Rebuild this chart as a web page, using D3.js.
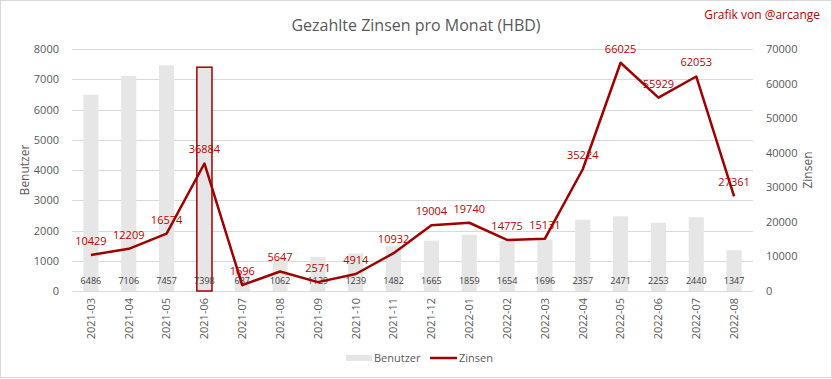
<!DOCTYPE html>
<html>
<head>
<meta charset="utf-8">
<script src="https://cdn.jsdelivr.net/npm/d3@7"></script>
<style>
  body { margin: 0; background: #fff; }
  svg text { font-family: "Open Sans", "DejaVu Sans", sans-serif; }
</style>
</head>
<body>
<div id="chart"></div>
<script>
// Data
const months = ["2021-03", "2021-04", "2021-05", "2021-06", "2021-07", "2021-08", "2021-09", "2021-10", "2021-11",
	"2021-12", "2022-01", "2022-02", "2022-03", "2022-04", "2022-05", "2022-06", "2022-07", "2022-08"];
const benutzer = [6486, 7106, 7457, 7398, 687, 1062, 1129, 1239, 1482, 1665, 1859, 1654, 1696, 2357, 2471, 2253, 2440, 1347];
const zinsen = [10429, 12209, 16574, 36884, 1696, 5647, 2571, 4914, 10932, 19004, 19740, 14775, 15131, 35224, 66025, 55929, 62053, 27361];
const highlighted = "2021-06";
const leftTicks = [0, 1000, 2000, 3000, 4000, 5000, 6000, 7000, 8000];
const rightTicks = [0, 10000, 20000, 30000, 40000, 50000, 60000, 70000];

const width = 832, height = 379;
const margins = { left: 72, right: 79, top: 49, bottom: 88 };
const lineColor = "#a00000";
const labelRed = "#c00000";
const grey = "#595959";

const svg = d3.select("#chart").append("svg")
	.attr("width", width).attr("height", height);

// Outer border
svg.append("rect")
	.attr("x", 0.5).attr("y", 0.5).attr("width", width - 1).attr("height", height - 2)
	.attr("fill", "#fff").attr("stroke", "#d9d9d9");

const x = d3.scaleBand().domain(months).range([margins.left, width - margins.right]).paddingInner(0.6).paddingOuter(0.3);
const yLeft = d3.scaleLinear().domain([0, 8000]).range([height - margins.bottom, margins.top]);
const yRight = d3.scaleLinear().domain([0, 70000]).range([height - margins.bottom, margins.top]);

// Gridlines
svg.append("g").selectAll("line")
	.data(leftTicks)
	.enter()
	.append("line")
		.attr("x1", margins.left).attr("x2", width - margins.right)
		.attr("y1", d => Math.round(yLeft(d)) + 0.5).attr("y2", d => Math.round(yLeft(d)) + 0.5)
		.attr("stroke", "#d9d9d9");

// Left axis
const leftAxis = svg.append("g")
	.attr("transform", `translate(${margins.left - 10}, 0)`)
	.call(d3.axisLeft(yLeft).tickValues(leftTicks).tickSize(0).tickFormat(d3.format("d")));
leftAxis.select(".domain").remove();
leftAxis.selectAll("text").attr("fill", grey).style("font-size", "11px");

// Right axis
const rightAxis = svg.append("g")
	.attr("transform", `translate(${width - margins.right + 10}, 0)`)
	.call(d3.axisRight(yRight).tickValues(rightTicks).tickSize(0).tickFormat(d3.format("d")));
rightAxis.select(".domain").remove();
rightAxis.selectAll("text").attr("fill", grey).style("font-size", "11px");

// Bottom axis (labels only)
const bottomAxis = svg.append("g")
	.attr("transform", `translate(0, ${height - margins.bottom})`)
	.call(d3.axisBottom(x).tickSize(0));
bottomAxis.select(".domain").remove();
bottomAxis.selectAll("text")
	.attr("fill", grey).style("font-size", "11px")
	.attr("transform", "rotate(-90)")
	.attr("x", -7).attr("y", 0).attr("dy", "0.35em")
	.style("text-anchor", "end");

// Bars
svg.append("g").selectAll("rect")
	.data(months.map((m, i) => ({ month: m, value: benutzer[i] })))
	.enter()
	.append("rect")
		.attr("x", d => x(d.month))
		.attr("y", d => yLeft(d.value))
		.attr("width", x.bandwidth())
		.attr("height", d => yLeft(0) - yLeft(d.value))
		.attr("fill", "#e6e6e6")
		.attr("stroke", d => d.month === highlighted ? lineColor : "none")
		.attr("stroke-width", 1.5);

// Bar value labels
svg.append("g").selectAll("text")
	.data(months.map((m, i) => ({ month: m, value: benutzer[i] })))
	.enter()
	.append("text")
		.attr("x", d => x(d.month) + x.bandwidth() / 2)
		.attr("y", yLeft(0) - 7)
		.attr("text-anchor", "middle")
		.attr("fill", "#404040")
		.style("font-size", "9px")
		.text(d => d.value);

// Zinsen line
const line = d3.line()
	.x((d, i) => x(months[i]) + x.bandwidth() / 2)
	.y(d => yRight(d));
svg.append("path")
	.datum(zinsen)
	.attr("d", line)
	.attr("fill", "none")
	.attr("stroke", lineColor)
	.attr("stroke-width", 2.5)
	.attr("stroke-linejoin", "round");

// Line value labels
svg.append("g").selectAll("text")
	.data(zinsen)
	.enter()
	.append("text")
		.attr("x", (d, i) => x(months[i]) + x.bandwidth() / 2)
		.attr("y", d => yRight(d) - 10)
		.attr("text-anchor", "middle")
		.attr("fill", labelRed)
		.style("font-size", "11px")
		.text(d => d);

// Title and credit
svg.append("text")
	.attr("x", 416).attr("y", 31)
	.attr("text-anchor", "middle")
	.attr("fill", grey)
	.style("font-size", "16px")
	.text("Gezahlte Zinsen pro Monat (HBD)");
svg.append("text")
	.attr("x", 820).attr("y", 19)
	.attr("text-anchor", "end")
	.attr("fill", labelRed)
	.style("font-size", "12px")
	.text("Grafik von @arcange");

// Axis titles
svg.append("text")
	.attr("transform", `translate(29, ${(margins.top + height - margins.bottom) / 2}) rotate(-90)`)
	.attr("text-anchor", "middle")
	.attr("fill", grey)
	.style("font-size", "12px")
	.text("Benutzer");
svg.append("text")
	.attr("transform", `translate(812, ${(margins.top + height - margins.bottom) / 2}) rotate(-90)`)
	.attr("text-anchor", "middle")
	.attr("fill", grey)
	.style("font-size", "12px")
	.text("Zinsen");

// Legend
const legend = svg.append("g").attr("transform", "translate(346, 358)");
legend.append("rect").attr("x", 0).attr("y", -3).attr("width", 26).attr("height", 6).attr("fill", "#e6e6e6");
legend.append("text").attr("x", 28).attr("y", 0).attr("dy", "0.35em").attr("fill", grey).style("font-size", "11px").text("Benutzer");
legend.append("line").attr("x1", 84).attr("x2", 111).attr("y1", 0).attr("y2", 0).attr("stroke", lineColor).attr("stroke-width", 2.5);
legend.append("text").attr("x", 113).attr("y", 0).attr("dy", "0.35em").attr("fill", grey).style("font-size", "11px").text("Zinsen");
</script>
</body>
</html>
